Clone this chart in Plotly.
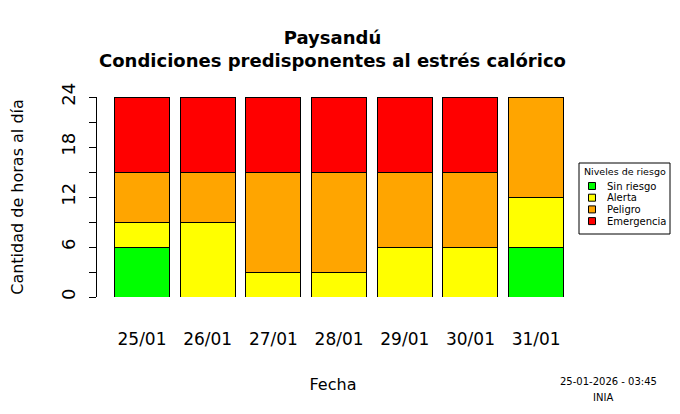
import plotly.graph_objects as go

# horas por nivel de riesgo, por día
fechas = ["25/01", "26/01", "27/01", "28/01", "29/01", "30/01", "31/01"]
sin_riesgo = [6, 0, 0, 0, 0, 0, 6]
alerta = [3, 9, 3, 3, 6, 6, 6]
peligro = [6, 6, 12, 12, 9, 9, 12]
emergencia = [9, 9, 9, 9, 9, 9, 0]

niveles = ["Sin riesgo", "Alerta", "Peligro", "Emergencia"]
colores = ["#00FF00", "#FFFF00", "#FFA500", "#FF0000"]
y_ticks = [0, 3, 6, 9, 12, 15, 18, 21, 24]
y_labels = ["0", "", "6", "", "12", "", "18", "", "24"]

FONT = "DejaVu Sans"
# the page body adds 8px around the figure, so draw it 8px smaller
W, H = 672, 406
ML, MR, MT, MB = 89, 111, 89, 117
pw = W - ML - MR
ph = H - MT - MB

def px2x(px):
    return (px - ML) / pw

def py2y(py):
    return (H - MB - py) / ph

fig = go.Figure()
xs = list(range(len(fechas)))
for nombre, vals, col in zip(niveles, [sin_riesgo, alerta, peligro, emergencia], colores):
    fig.add_trace(go.Bar(x=xs, y=vals, name=nombre, showlegend=False,
                         marker=dict(color=col, line=dict(color="black", width=1))))

fig.update_layout(
    width=W, height=H,
    barmode="stack", bargap=0.163,
    paper_bgcolor="white", plot_bgcolor="white",
    margin=dict(l=ML, r=MR, t=MT, b=MB, autoexpand=False),
    font=dict(family=FONT, color="black"),
    title=dict(text="<b>Paysandú</b><br><b>Condiciones predisponentes al estrés calórico</b>",
               x=324.5 / W, xanchor="center", y=1 - 36 / H, yanchor="middle",
               font=dict(size=18, family=FONT)),
)

fig.update_xaxes(
    range=[-0.685, 6.5], tickvals=xs, ticktext=fechas,
    showline=False, showgrid=False, zeroline=False, ticks="",
    ticklabelstandoff=30, tickfont=dict(size=17), automargin=False,
    title=dict(text="Fecha", font=dict(size=16), standoff=30),
)
fig.update_yaxes(
    range=[0, 24], tickvals=y_ticks, ticktext=y_labels,
    showline=True, linecolor="black", linewidth=1,
    showgrid=False, zeroline=False, automargin=False,
    ticks="outside", ticklen=7, tickcolor="black",
    tickangle=-90, tickfont=dict(size=18), ticklabelstandoff=7,
    title=dict(text="Cantidad de horas al día", font=dict(size=16), standoff=34),
)

# leyenda al estilo de R (caja, título y cuadrados pequeños)
fig.add_shape(type="rect", xref="paper", yref="paper",
              x0=px2x(571), x1=px2x(662), y0=py2y(155), y1=py2y(226),
              line=dict(color="black", width=1), fillcolor="white")
fig.add_annotation(text="Niveles de riesgo", xref="paper", yref="paper",
                   x=px2x(616.5), y=py2y(163), xanchor="center", yanchor="middle",
                   showarrow=False, font=dict(size=9.5))
for i, (nombre, col) in enumerate(zip(niveles, colores)):
    yc = 178 + 11.7 * i
    fig.add_shape(type="rect", xref="paper", yref="paper",
                  x0=px2x(580.5), x1=px2x(587.5), y0=py2y(yc - 3.5), y1=py2y(yc + 3.5),
                  line=dict(color="black", width=1), fillcolor=col)
    fig.add_annotation(text=nombre, xref="paper", yref="paper",
                       x=px2x(597), y=py2y(yc), xanchor="left", yanchor="middle",
                       showarrow=False, font=dict(size=10))

# pie de página
for texto, px, py in [("25-01-2026 - 03:45", 600, 373), ("INIA", 595, 389)]:
    fig.add_annotation(text=texto, xref="paper", yref="paper",
                       x=px2x(px), y=py2y(py),
                       xanchor="center", yanchor="middle",
                       showarrow=False, font=dict(size=10))

fig.write_html("out.html")
